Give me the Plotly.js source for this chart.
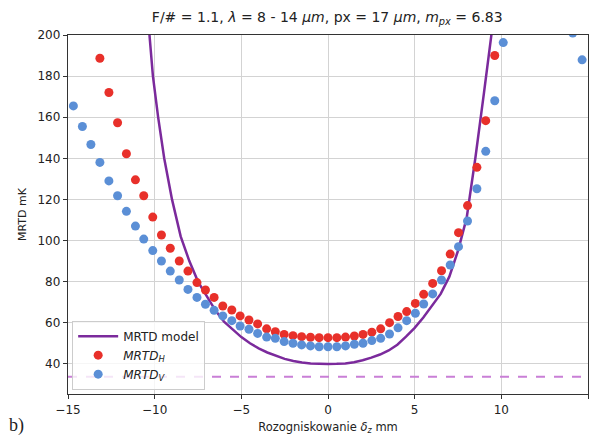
<!DOCTYPE html>
<html>
<head>
<meta charset="utf-8">
<script src="https://cdn.plot.ly/plotly-3.0.1.min.js"></script>
<style>html,body{margin:0;padding:0;background:#fff;}#chart{width:595px;height:440px;}</style>
</head>
<body>
<div id="chart"></div>
<script>
// Measured MRTD_H (red)
const xH = [-13.16,-12.64,-12.14,-11.63,-11.11,-10.63,-10.11,-9.61,-9.10,-8.58,-8.08,-7.56,-7.07,-6.57,-6.07,-5.55,-5.07,-4.56,-4.06,-3.54,-3.04,-2.53,-2.02,-1.52,-1.01,-0.51,0,0.51,1.01,1.52,2.02,2.53,3.04,3.55,4.04,4.54,5.04,5.52,6.04,6.55,7.05,7.53,8.05,8.59,9.10,9.62];
const yH = [188.7,172,157.3,142.2,129.5,121.8,111.4,102.7,96.2,90.0,85.1,79.5,75.9,72.3,68.1,66.2,63.3,61.3,59.4,57.0,55.6,54.3,53.7,53.2,52.9,52.7,52.7,52.7,53.0,53.5,54.3,55.4,57.0,60.0,63.0,65.4,69.4,73.8,79.1,85.3,93.4,103.8,117.0,135.6,158.3,190];
// Measured MRTD_V (blue)
const xV = [-14.69,-14.17,-13.68,-13.16,-12.64,-12.14,-11.63,-11.11,-10.63,-10.11,-9.61,-9.10,-8.58,-8.08,-7.56,-7.07,-6.57,-6.07,-5.55,-5.07,-4.56,-4.06,-3.54,-3.04,-2.53,-2.02,-1.52,-1.01,-0.51,0,0.51,1.01,1.52,2.02,2.53,3.04,3.55,4.04,4.54,5.04,5.52,6.04,6.55,7.05,7.53,8.05,8.59,9.10,9.62,10.11,14.12,14.66];
const yV = [165.5,155.5,146.7,138,129,121.8,114.2,107,100.7,95.1,90.0,85.1,80.8,76.2,72.3,69.0,66.0,63.3,61.0,58.4,56.8,54.8,53.0,52.4,50.8,50.0,49.2,48.7,48.3,48.3,48.3,48.7,49.5,50.0,51.3,52.4,54.5,57.5,61.0,64.6,69.1,74.0,80.8,88.1,97.0,109.5,125.2,143.4,168,196.3,201,187.9];
// MRTD model curve
const xM = [-10.6,-10.3,-10.1,-9.8,-9.45,-9.0,-8.5,-8.0,-7.5,-7.0,-6.5,-6.0,-5.5,-5.0,-4.5,-4.0,-3.5,-3.0,-2.5,-2.0,-1.5,-1.0,-0.5,0,0.5,1.0,1.5,2.0,2.5,3.0,3.5,4.0,4.5,5.0,5.5,6.0,6.5,7.0,7.5,8.0,8.5,9.0,9.45,9.7];
const yM = [240,200,180,160,140,120,102,90,80,73,66,60.5,56.5,53,50,47.5,45.5,43.8,42.4,41.4,40.6,40.2,40.0,39.9,40.0,40.2,40.8,41.7,43.0,44.5,46.5,49.3,53.2,57.5,62.5,68,74,82.4,95,111,140,172,201,218];
// Dashed reference level
const xRef = [-15, 15];
const yRef = [33.7, 33.7];

const xTicks = [-15,-10,-5,0,5,10,15];
const xTickText = ['\u221215','\u221210','\u22125','0','5','10','15'];
const yTicks = [40,60,80,100,120,140,160,180,200];

const traces = [
  {x: xRef, y: yRef, mode: 'lines', line: {color: '#c97fd6', width: 2, dash: 'dash'}, showlegend: false, hoverinfo: 'skip'},
  {x: xM, y: yM, mode: 'lines', name: 'MRTD model', line: {color: '#7b2a9c', width: 2.5}},
  {x: xH, y: yH, mode: 'markers', name: '<i>MRTD<sub>H</sub></i>', marker: {color: '#e8302a', size: 9}},
  {x: xV, y: yV, mode: 'markers', name: '<i>MRTD<sub>V</sub></i>', marker: {color: '#5b8fd6', size: 9}}
];

const layout = {
  width: 595, height: 440,
  margin: {l: 68, r: 7, t: 35, b: 46},
  paper_bgcolor: '#fff', plot_bgcolor: '#fff',
  font: {family: 'DejaVu Sans, sans-serif', color: '#222', size: 12},
  title: {text: 'F/# = 1.1, <i>\u03bb</i> = 8 - 14 <i>\u03bcm</i>, px = 17 <i>\u03bcm</i>, <i>m<sub>px</sub></i> = 6.83', font: {size: 14, color: '#222'}, x: 0.55, xanchor: 'center', y: 0.962, yanchor: 'middle'},
  xaxis: {range: [-15, 15], tickvals: xTicks, ticktext: xTickText, showgrid: true, gridcolor: '#d3d3d3', gridwidth: 1,
    showline: true, mirror: true, linecolor: '#333', linewidth: 1.2, ticks: 'outside', ticklen: 4, tickcolor: '#333',
    zeroline: false, tickfont: {size: 12},
    title: {text: 'Rozogniskowanie <i>\u03b4<sub>z</sub></i> mm', font: {size: 11.5}, standoff: 7}},
  yaxis: {range: [25.3, 200], tickvals: yTicks, showgrid: true, gridcolor: '#d3d3d3', gridwidth: 1,
    showline: true, mirror: true, linecolor: '#333', linewidth: 1.2, ticks: 'outside', ticklen: 4, tickcolor: '#333',
    zeroline: false, tickfont: {size: 12},
    title: {text: 'MRTD mK', font: {size: 11}, standoff: 8}},
  legend: {x: 0.008, y: 0.012, xanchor: 'left', yanchor: 'bottom', bgcolor: 'rgba(255,255,255,0.8)', bordercolor: '#ccc', borderwidth: 1,
    font: {size: 12}, tracegroupgap: 0, itemwidth: 40},
  annotations: [{text: 'b)', xref: 'paper', yref: 'paper', x: -0.1, y: -0.123, xanchor: 'center', yanchor: 'bottom', showarrow: false,
    font: {family: 'Liberation Serif, serif', size: 18, color: '#222'}}]
};

Plotly.newPlot('chart', traces, layout, {staticPlot: true, displayModeBar: false});
</script>
</body>
</html>
